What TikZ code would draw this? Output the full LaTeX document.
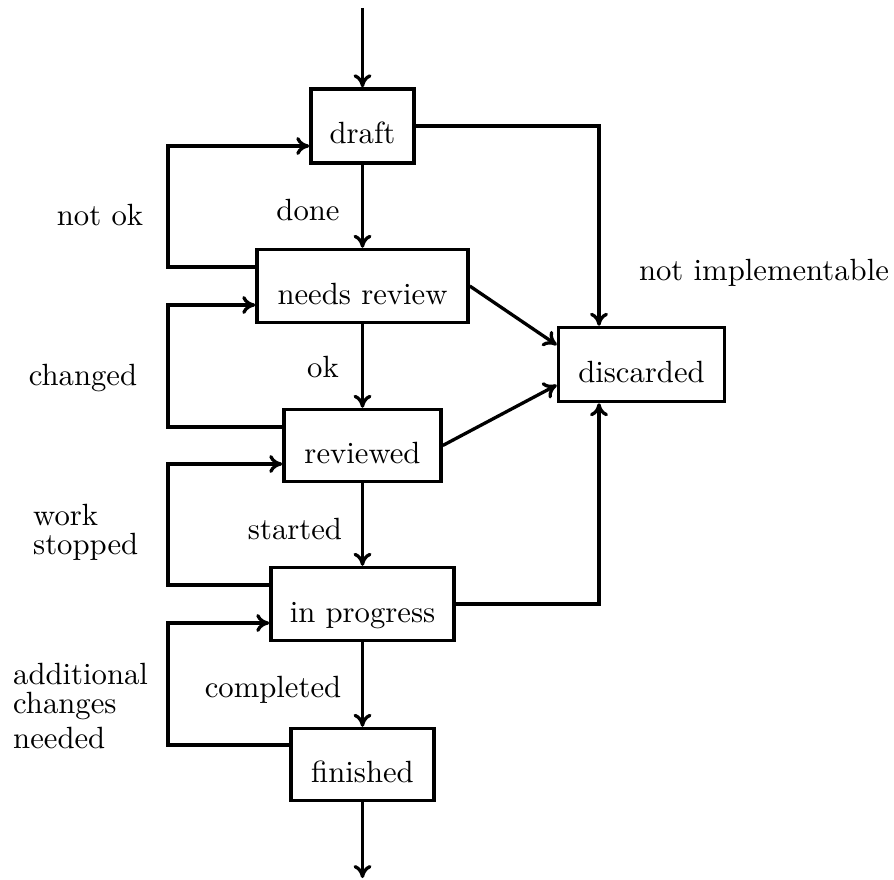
\documentclass[tikz,border=0pt]{standalone}
\usepackage{fontspec}
\setmainfont{lmroman10-regular.otf}
\usetikzlibrary{arrows.meta}
\begin{document}
\begin{tikzpicture}[x=1pt,y=-1pt,
  every node/.style={font=\fontsize{30.7}{29}\selectfont},
  state/.style={draw, line width=3.5pt, inner sep=0pt, text height=38pt, text depth=2pt},
  arr/.style={line width=3.3pt, -{Computer Modern Rightarrow[length=13pt,width=18pt]}},
  lbl/.style={anchor=base, inner sep=0pt},
  note/.style={anchor=north west, inner sep=0pt, align=left},
]
\useasboundingbox (0,0) rectangle (894,880);

% states
\node[state, minimum width=103pt, minimum height=74pt] (dr) at (362.5,126)   {draft};
\node[state, minimum width=211pt, minimum height=73pt] (nr) at (362.5,286)   {needs review};
\node[state, minimum width=157pt, minimum height=72pt] (rv) at (362.5,445.5) {reviewed};
\node[state, minimum width=183pt, minimum height=73pt] (ip) at (362.5,604)   {in progress};
\node[state, minimum width=143pt, minimum height=72pt] (fn) at (362.5,764.5) {finished};
\node[state, minimum width=166pt, minimum height=74pt] (ds) at (641.5,364.5) {discarded};

% entry and exit
\coordinate (start) at (362.5,8);
\coordinate (stop) at (362.5,878);
\draw[arr] (start) -- (dr.north);
\draw[arr] (fn.south) -- (stop);

% forward transitions
\draw[arr] (dr.south) -- (nr.north);
\draw[arr] (nr.south) -- (rv.north);
\draw[arr] (rv.south) -- (ip.north);
\draw[arr] (ip.south) -- (fn.north);

% backward loops on the left
\coordinate (xl) at (168,0);
\coordinate (b1) at ([yshift=19pt]nr.west);
\draw[arr] (b1) -- (b1 -| xl) |- ([yshift=-20pt]dr.west);
\coordinate (b2) at ([yshift=18.5pt]rv.west);
\draw[arr] (b2) -- (b2 -| xl) |- ([yshift=-19pt]nr.west);
\coordinate (b3) at ([yshift=19pt]ip.west);
\draw[arr] (b3) -- (b3 -| xl) |- ([yshift=-18.5pt]rv.west);
\coordinate (b4) at ([yshift=19.5pt]fn.west);
\draw[arr] (b4) -- (b4 -| xl) |- ([yshift=-19pt]ip.west);

% transitions to discarded
\draw[arr] (dr.east) -| ([xshift=-42.5pt]ds.north);
\draw[arr] (nr.east) -- ([yshift=19.5pt]ds.west);
\draw[arr] (rv.east) -- ([yshift=-20.5pt]ds.west);
\draw[arr] (ip.east) -| ([xshift=-42.5pt]ds.south);

% transition labels
\node[lbl] (ldone) at (308,220) {done};
\node[lbl] (lok) at (323,377) {ok};
\node[lbl] (lstarted) at (295,539) {started};
\node[lbl] (lcompleted) at (273,697) {completed};
\node[lbl] (lnotok) at (100,225) {not ok};
\node[lbl] (lchanged) at (83,385) {changed};
\node[lbl] (lnotimpl) at (764,280) {not implementable};
\node[note] (lstopped) at (33,504) {work\\stopped};
\node[note] (ladd) at (13,663) {additional\\changes\\[6pt]needed};
\end{tikzpicture}
\end{document}
